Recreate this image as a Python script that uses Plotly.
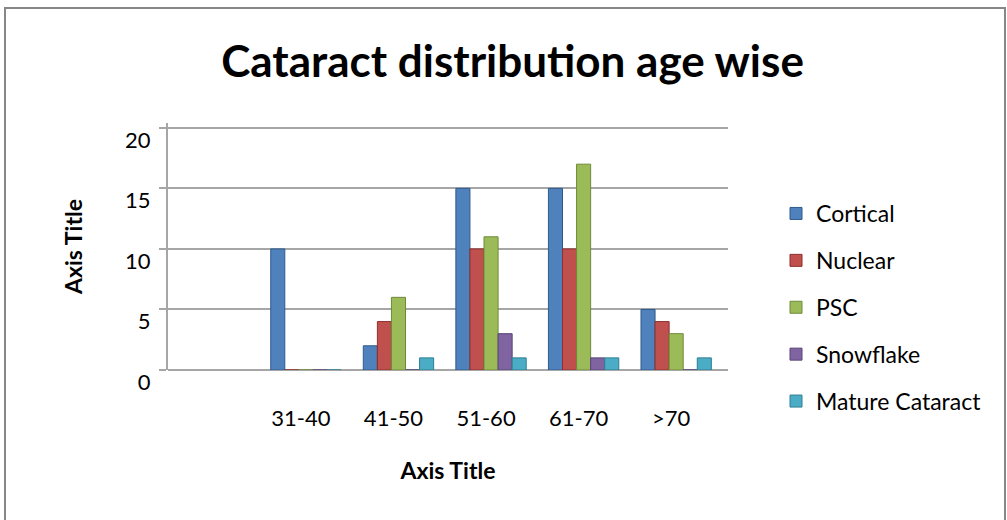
import plotly.graph_objects as go

categories = ["31-40", "41-50", "51-60", "61-70", ">70"]
cortical = [10, 2, 15, 15, 5]
nuclear = [0, 4, 10, 10, 4]
psc = [0, 6, 11, 17, 3]
snowflake = [0, 0, 3, 1, 0]
mature = [0, 1, 1, 1, 1]

series_names = ["Cortical", "Nuclear", "PSC", "Snowflake", "Mature Cataract"]
series_values = [cortical, nuclear, psc, snowflake, mature]
colors = ["#4F81BD", "#C0504D", "#9BBB59", "#8064A2", "#4BACC6"]
edge_colors = ["#2F5A8C", "#8E2F2C", "#6E8A38", "#594477", "#2E7E93"]

y_ticks = [0, 5, 10, 15, 20]

FONT = "Lato"

fig = go.Figure()
for i, (name, vals) in enumerate(zip(series_names, series_values)):
    fig.add_trace(go.Bar(
        x=categories, y=vals, name=name,
        marker=dict(color=colors[i], line=dict(color=edge_colors[i], width=1)),
        legendgroup=name,
    ))

L, R, T, B = 168, 279, 123, 150
W, H = 1007, 520
pw, ph = W - L - R, H - T - B

def px2paper_x(px):
    return (px - L) / pw

def px2paper_y(py):
    return (H - B - py) / ph

fig.update_layout(
    width=W, height=H,
    margin=dict(l=L, r=R, t=T, b=B, pad=0),
    paper_bgcolor="white", plot_bgcolor="white",
    barmode="group", bargap=0.24, bargroupgap=0,
    font=dict(family=FONT, color="black"),
    title=dict(text="<b>Cataract distribution age wise</b>",
               font=dict(family=FONT, size=44, color="black"),
               x=0.509, xanchor="center", y=1 - 62 / H, yanchor="middle"),
    legend=dict(x=px2paper_x(776), xanchor="left", y=px2paper_y(192), yanchor="top",
                font=dict(family=FONT, size=23, color="black"),
                tracegroupgap=14, bgcolor="rgba(0,0,0,0)", maxheight=1),
    xaxis=dict(
        type="category", range=[-1.49, 4.56],
        showgrid=False, zeroline=False, showline=False, ticks="",
        tickfont=dict(family=FONT, size=22, color="black"),
        ticklabelstandoff=33, ticklabelshift=-5,
        title=dict(text="<b>Axis Title</b>", font=dict(family=FONT, size=23, color="black"),
                   standoff=32),
    ),
    yaxis=dict(
        range=[0, 20.4], tickvals=y_ticks,
        showgrid=True, gridcolor="#A6A6A6", gridwidth=2,
        zeroline=True, zerolinecolor="#A6A6A6", zerolinewidth=2,
        showline=True, linecolor="#A6A6A6", linewidth=2,
        ticks="outside", ticklen=7, tickcolor="#A6A6A6", tickwidth=2,
        tickfont=dict(family=FONT, size=22, color="black"),
        ticklabelshift=12, ticklabelstandoff=4,
        title=dict(text="<b>Axis Title</b>", font=dict(family=FONT, size=23, color="black"),
                   standoff=36),
    ),
)

# chart outer border
fig.add_shape(type="rect", xref="paper", yref="paper",
              x0=px2paper_x(5), x1=px2paper_x(1005), y0=px2paper_y(530), y1=px2paper_y(8),
              line=dict(color="#878787", width=2), fillcolor="rgba(0,0,0,0)", layer="below")

fig.write_html("out.html")
